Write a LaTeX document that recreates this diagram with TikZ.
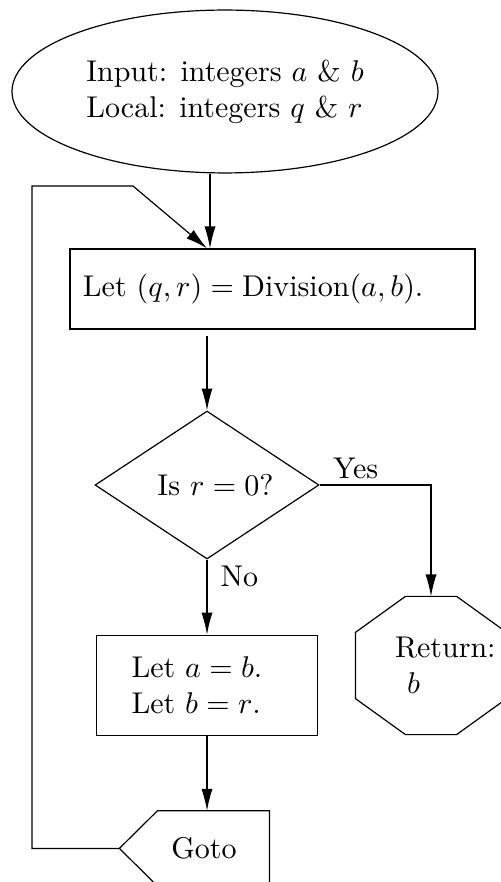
\documentclass[tikz,border=0pt]{standalone}
\usepackage{amsmath}
\usetikzlibrary{shapes.geometric, arrows.meta, positioning}

\begin{document}
\begin{tikzpicture}[>={Latex[length=7.3pt,width=3.7pt]}, line width=0.4pt]
    \tikzstyle{terminal} = [ellipse, draw, minimum width=142pt, minimum height=54.3pt, align=left, inner sep=0pt]
    \tikzstyle{process} = [rectangle, draw, minimum height=26.67pt, text width=126.33pt, inner xsep=4.33pt, align=left]
    \tikzstyle{decision} = [diamond, draw, aspect=1.5, minimum width=74.67pt, minimum height=49.33pt, inner sep=1pt]
    \tikzstyle{assign} = [rectangle, draw, minimum height=33.33pt, text width=50.33pt, inner xsep=11.67pt, align=left]
    \tikzstyle{stopbox} = [rectangle, minimum width=50pt, minimum height=45.67pt, align=left]
    \tikzstyle{jump} = [rectangle, minimum width=49.67pt, minimum height=24.67pt]

    \useasboundingbox (0,0) rectangle (166.67pt,-294pt);

    \node [terminal] (in) at (75pt,-30.5pt) {Input: integers $a$ \& $b$\\Local: integers $q$ \& $r$};
    \node [process] (div) at (90.83pt,-96.33pt) {Let $(q,r)=\text{Division}(a,b)$.};
    \node [decision] (test) at (69pt,-161.67pt) {\hspace*{5.7pt}Is $r=0$?};
    \node [assign, below=25pt of test] (swap) {Let $a=b$.\\Let $b=r$.};
    \node [stopbox] (ret) at (143.67pt,-221.83pt) {\makebox[24pt][l]{Return:}\\\hspace*{4pt}$b$};
    \node [jump, below=25pt of swap, xshift=-4.17pt] (goto) {\hspace*{6.33pt}Goto};

    % octagon and goto outlines
    \draw ([xshift=16.67pt]ret.north west) -- ([xshift=-16.67pt]ret.north east) -- ([yshift=-12pt]ret.north east)
        -- ([yshift=12pt]ret.south east) -- ([xshift=-16.67pt]ret.south east) -- ([xshift=16.67pt]ret.south west)
        -- ([yshift=12pt]ret.south west) -- ([yshift=-12pt]ret.north west) -- cycle;
    \draw ([xshift=12.67pt]goto.north west) -- (goto.north east) -- (goto.south east)
        -- ([xshift=12.67pt]goto.south west) -- (goto.west) -- cycle;

    \coordinate (backtop) at (10.67pt,-62pt);
    \coordinate (backknee) at (44.33pt,-62pt);

    \path [draw, ->] ([xshift=1pt]test.north |- in.south) -- ([xshift=1pt]test.north |- div.north);
    \path [draw, ->, shorten <=2.3pt] (test.north |- div.south) -- (test.north);
    \path [draw, ->] (test.east) node [above right, inner xsep=4.3pt, inner ysep=1.7pt] {Yes} -| (ret.north);
    \path [draw, ->] (test.south) node [below right, inner xsep=4.3pt, inner ysep=2pt] {No} -- (test.south |- swap.north);
    \path [draw, ->] (swap.south) -- (swap.south |- goto.north);
    \path [draw, ->] (goto.west) -| (backtop) -- (backknee) -- (test.north |- div.north);
\end{tikzpicture}
\end{document}
